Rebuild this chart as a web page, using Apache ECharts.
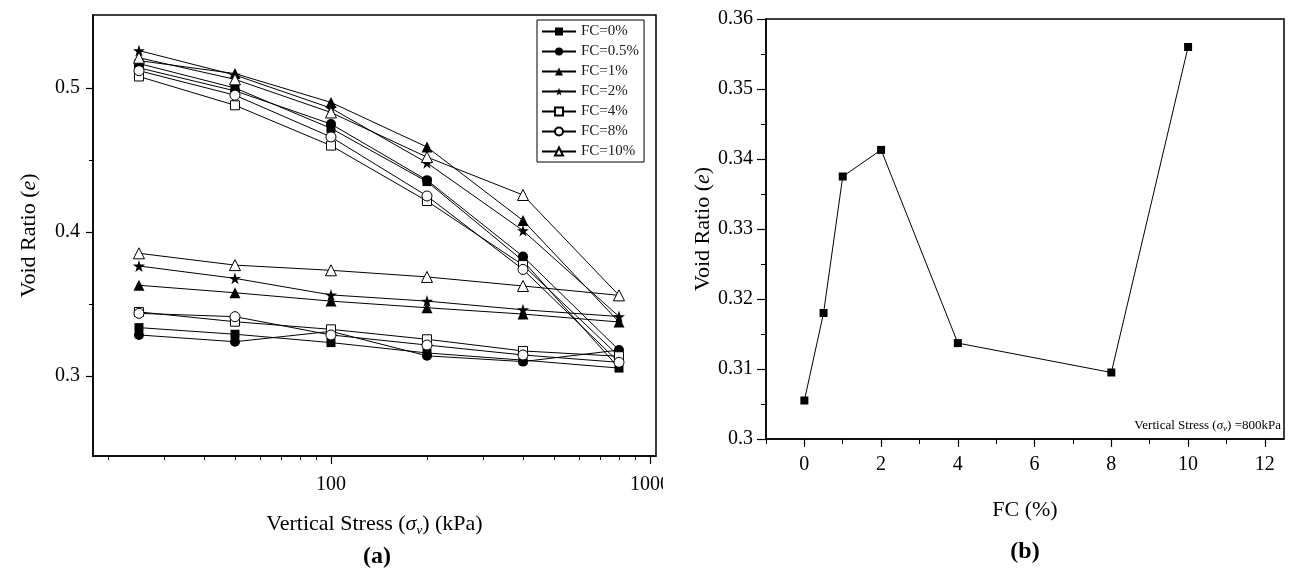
<!DOCTYPE html>
<html>
<head>
<meta charset="utf-8">
<script src="https://cdn.jsdelivr.net/npm/echarts@6/dist/echarts.min.js"></script>
<style>
html,body{margin:0;padding:0;background:#fff;}
#c{width:1296px;height:578px;}
</style>
</head>
<body>
<div id="c"></div>
<script>
// ---- data ----
var stress = [25, 50, 100, 200, 400, 800, 400, 200, 100, 50, 25];
var fcNames = ['FC=0%', 'FC=0.5%', 'FC=1%', 'FC=2%', 'FC=4%', 'FC=8%', 'FC=10%'];
var eFC0   = [0.517, 0.500, 0.472, 0.435, 0.380, 0.3055, 0.311, 0.316, 0.3232, 0.329, 0.3336];
var eFC05  = [0.514, 0.498, 0.475, 0.436, 0.383, 0.318, 0.310, 0.314, 0.331, 0.3238, 0.3285];
var eFC1   = [0.519, 0.510, 0.490, 0.459, 0.408, 0.3375, 0.343, 0.3474, 0.352, 0.3578, 0.363];
var eFC2   = [0.526, 0.509, 0.486, 0.448, 0.401, 0.3413, 0.346, 0.352, 0.3563, 0.3678, 0.3764];
var eFC4   = [0.508, 0.488, 0.460, 0.4215, 0.377, 0.3137, 0.3174, 0.3255, 0.3324, 0.3377, 0.3445];
var eFC8   = [0.512, 0.495, 0.466, 0.425, 0.374, 0.3095, 0.3146, 0.3215, 0.3285, 0.3412, 0.3435];
var eFC10  = [0.521, 0.506, 0.483, 0.452, 0.4257, 0.356, 0.3625, 0.3688, 0.3734, 0.377, 0.3852];
var fcPct = [0, 0.5, 1, 2, 4, 8, 10];
var e800  = [0.3055, 0.318, 0.3375, 0.3413, 0.3137, 0.3095, 0.356];
var leftXLabels = [100, 1000];
var leftXMinor = [20, 30, 40, 50, 60, 70, 80, 90, 200, 300, 400, 500, 600, 700, 800, 900];
var leftYLabels = [0.3, 0.4, 0.5];
var leftYMinor = [0.35, 0.45];
var rightXLabels = [0, 2, 4, 6, 8, 10, 12];
var rightXMinor = [-1, 1, 3, 5, 7, 9, 11];

var SERIF = '"Liberation Serif", "Times New Roman", serif';
var STAR = 'path://M50,0 L61,35 L98,35 L68,57 L79,91 L50,70 L21,91 L32,57 L2,35 L39,35 Z';

var allE = [eFC0, eFC05, eFC1, eFC2, eFC4, eFC8, eFC10];
var symbols = ['rect', 'circle', 'triangle', STAR, 'rect', 'circle', 'triangle'];
var sizes = [9, 10, 11, 12, 9, 10, 11];
var filled = [true, true, true, true, false, false, false];

var series = [];
for (var k = 0; k < 7; k++) {
  series.push({
    name: fcNames[k],
    type: 'line',
    xAxisIndex: 0, yAxisIndex: 0,
    data: stress.map(function (s, i) { return [s, allE[k][i]]; }),
    symbol: symbols[k],
    symbolSize: sizes[k],
    showAllSymbol: true,
    lineStyle: { color: '#000', width: 1 },
    itemStyle: { color: filled[k] ? '#000' : '#fff', borderColor: '#000', borderWidth: filled[k] ? 0 : 1 },
    emphasis: { disabled: true },
    animation: false,
    z: 3
  });
}
series.push({
  name: 'b',
  type: 'line',
  xAxisIndex: 2, yAxisIndex: 2,
  data: fcPct.map(function (f, i) { return [f, e800[i]]; }),
  symbol: 'rect', symbolSize: 8,
  lineStyle: { color: '#000', width: 1 },
  itemStyle: { color: '#000' },
  emphasis: { disabled: true },
  animation: false
});

var axisLine = { show: true, onZero: false, lineStyle: { color: '#000', width: 1.5 } };
var nameStyle = {
  color: '#000', fontFamily: SERIF, fontSize: 22,
  rich: {
    i: { fontFamily: SERIF, fontSize: 22, fontStyle: 'italic', color: '#000' },
    s: { fontFamily: SERIF, fontSize: 13, fontStyle: 'italic', color: '#000', padding: [12, 0, 0, 0] }
  }
};

var option = {
  backgroundColor: '#fff',
  animation: false,
  grid: [
    { left: 93, top: 15, width: 563, height: 441, show: true, borderColor: '#000', borderWidth: 1.5, backgroundColor: 'transparent' },
    { left: 766, top: 19, width: 518, height: 420, show: true, borderColor: '#000', borderWidth: 1.5, backgroundColor: 'transparent' }
  ],
  legend: {
    data: fcNames,
    left: 537, top: 20,
    orient: 'vertical',
    itemWidth: 34, itemHeight: 10, itemGap: 5,
    padding: [4, 5, 3, 4],
    borderColor: '#000', borderWidth: 1,
    backgroundColor: '#fff',
    textStyle: { fontFamily: SERIF, fontSize: 15, color: '#1a1a1a' },
    selectedMode: false
  },
  xAxis: [
    {
      type: 'log', gridIndex: 0, min: 17.94, max: 1045, logBase: 10,
      axisLine: axisLine,
      axisTick: { show: true, inside: false, length: 8, customValues: leftXLabels, lineStyle: { color: '#000', width: 1.2 } },
      axisLabel: { show: true, margin: 19, customValues: leftXLabels, formatter: function (v) { return String(Math.round(v)); }, color: '#000', fontFamily: SERIF, fontSize: 20 },
      splitLine: { show: false },
      name: 'Vertical Stress ({i|σ}{s|v}) (kPa)', nameLocation: 'middle', nameGap: 56,
      nameTextStyle: nameStyle
    },
    {
      type: 'log', gridIndex: 0, min: 17.94, max: 1045, logBase: 10, position: 'bottom',
      axisLine: { show: false, onZero: false },
      axisTick: { show: true, inside: false, length: 4, customValues: leftXMinor, lineStyle: { color: '#000', width: 1 } },
      axisLabel: { show: false },
      splitLine: { show: false }
    },
    {
      type: 'value', gridIndex: 1, min: -1, max: 12.5,
      axisLine: axisLine,
      axisTick: { show: true, inside: false, length: 8, customValues: rightXLabels, lineStyle: { color: '#000', width: 1.2 } },
      axisLabel: { show: true, margin: 16, customValues: rightXLabels, color: '#000', fontFamily: SERIF, fontSize: 20 },
      splitLine: { show: false },
      name: 'FC (%)', nameLocation: 'middle', nameGap: 60,
      nameTextStyle: nameStyle
    },
    {
      type: 'value', gridIndex: 1, min: -1, max: 12.5, position: 'bottom',
      axisLine: { show: false, onZero: false },
      axisTick: { show: true, inside: false, length: 5, customValues: rightXMinor, lineStyle: { color: '#000', width: 1 } },
      axisLabel: { show: false },
      splitLine: { show: false }
    }
  ],
  yAxis: [
    {
      type: 'value', gridIndex: 0, min: 0.24444, max: 0.55069,
      axisLine: axisLine,
      axisTick: { show: true, inside: false, length: 7, customValues: leftYLabels, lineStyle: { color: '#000', width: 1.2 } },
      axisLabel: { show: true, margin: 13, customValues: leftYLabels, color: '#000', fontFamily: SERIF, fontSize: 20 },
      splitLine: { show: false },
      name: 'Void Ratio ({i|e})', nameLocation: 'middle', nameGap: 53,
      nameTextStyle: nameStyle
    },
    {
      type: 'value', gridIndex: 0, min: 0.24444, max: 0.55069, position: 'left',
      axisLine: { show: false, onZero: false },
      axisTick: { show: true, inside: false, length: 4, customValues: leftYMinor, lineStyle: { color: '#000', width: 1 } },
      axisLabel: { show: false },
      splitLine: { show: false }
    },
    {
      type: 'value', gridIndex: 1, min: 0.3, max: 0.36, interval: 0.01,
      axisLine: axisLine,
      axisTick: { show: true, inside: false, length: 9, lineStyle: { color: '#000', width: 1.2 } },
      minorTick: { show: true, splitNumber: 2, length: 5, lineStyle: { color: '#000', width: 1 } },
      axisLabel: { show: true, margin: 13, color: '#000', fontFamily: SERIF, fontSize: 20 },
      splitLine: { show: false },
      minorSplitLine: { show: false },
      name: 'Void Ratio ({i|e})', nameLocation: 'middle', nameGap: 51,
      nameTextStyle: nameStyle
    }
  ],
  graphic: [
    { type: 'rect', left: 663, top: 466, shape: { width: 30, height: 40 }, style: { fill: '#fff' }, z: 100 },
    {
      type: 'text', x: 377, y: 557, z: 100,
      style: { text: '(a)', font: 'bold 24px ' + SERIF, fill: '#000', textAlign: 'center', textVerticalAlign: 'middle' }
    },
    {
      type: 'text', x: 1025, y: 552, z: 100,
      style: { text: '(b)', font: 'bold 24px ' + SERIF, fill: '#000', textAlign: 'center', textVerticalAlign: 'middle' }
    },
    {
      type: 'text', x: 1281, y: 426, z: 100,
      style: {
        text: 'Vertical Stress ({i|σ}{s|v}) =800kPa',
        fontFamily: SERIF, fontSize: 13, fill: '#000', align: 'right', verticalAlign: 'middle',
        rich: {
          i: { fontFamily: SERIF, fontSize: 13, fontStyle: 'italic', fill: '#000' },
          s: { fontFamily: SERIF, fontSize: 9, fontStyle: 'italic', fill: '#000', padding: [6, 0, 0, 0] }
        }
      }
    }
  ],
  series: series
};

var chart = echarts.init(document.getElementById('c'), null, { renderer: 'canvas' });
chart.setOption(option);
</script>
</body>
</html>
